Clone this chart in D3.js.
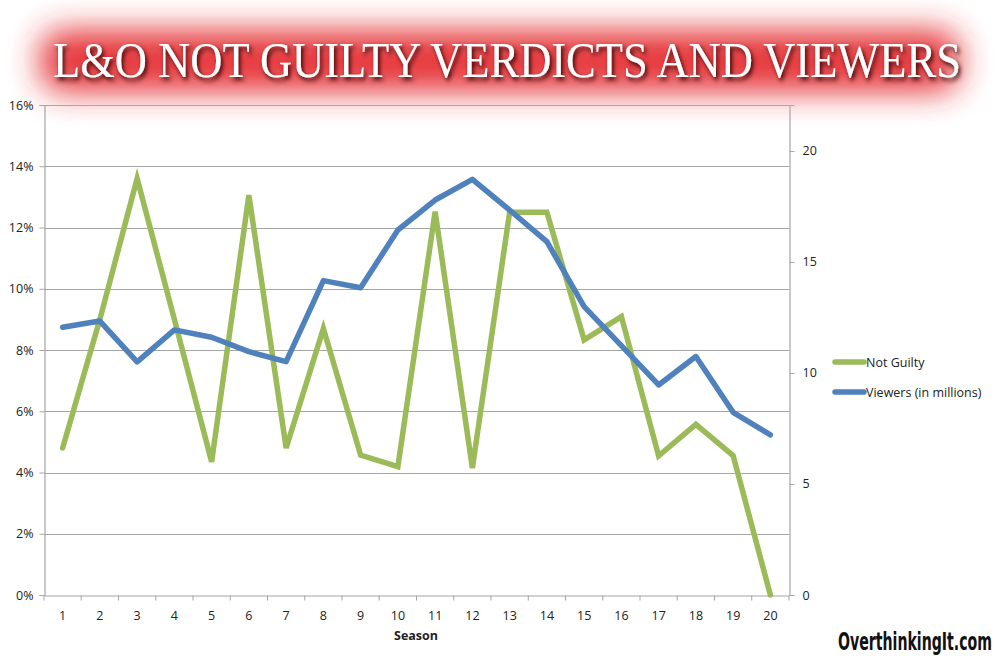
<!DOCTYPE html>
<html><head><meta charset="utf-8">
<script src="https://cdn.jsdelivr.net/npm/d3@7"></script>
<style>body{margin:0;background:#fff}svg{display:block}</style>
</head><body>
<svg id="c" width="1000" height="662"></svg>
<script>
const seasons = [1,2,3,4,5,6,7,8,9,10,11,12,13,14,15,16,17,18,19,20];
const notGuilty = [4.8,9.0,13.6,9.0,4.35,13.06,4.8,8.7,4.57,4.19,12.52,4.14,12.5,12.5,8.33,9.09,4.54,5.57,4.55,0];
const viewers = [12.06,12.34,10.5,11.94,11.61,10.96,10.51,14.16,13.84,16.44,17.79,18.72,17.34,15.92,12.99,11.23,9.46,10.74,8.23,7.21];
const leftTicks = [0,2,4,6,8,10,12,14,16];
const rightTicks = [0,5,10,15,20];
const seriesNames = ["Not Guilty","Viewers (in millions)"];
const colors = ["#9bbb59","#4f81bd"];
const title = "L&O NOT GUILTY VERDICTS AND VIEWERS";

const svg = d3.select("#c");
const L = 44, R = 789, T = 105, B = 595;

const defs = svg.append("defs");
defs.append("filter").attr("id","glow").attr("filterUnits","userSpaceOnUse")
  .attr("x",-50).attr("y",-60).attr("width",1100).attr("height",240)
  .append("feGaussianBlur").attr("stdDeviation",16);
const ts = defs.append("filter").attr("id","tshadow").attr("filterUnits","userSpaceOnUse")
  .attr("x",-600).attr("y",-100).attr("width",1200).attr("height",160);
ts.append("feDropShadow").attr("dx",2).attr("dy",2.5).attr("stdDeviation",2.2).attr("flood-color","#2a0000").attr("flood-opacity",0.95);

// title glow
svg.append("rect").attr("x",40).attr("y",30).attr("width",920).attr("height",62).attr("rx",24)
  .attr("fill","#e4262c").attr("opacity",0.92).attr("filter","url(#glow)");
svg.append("g").attr("transform","translate(507,77) scale(1,1.25)")
  .append("text").attr("x",0).attr("y",0).attr("text-anchor","middle")
  .attr("font-family","Liberation Serif, serif").attr("font-size",40)
  .attr("textLength",908).attr("lengthAdjust","spacingAndGlyphs")
  .attr("fill","#fff").attr("filter","url(#tshadow)").text(title);

const x = d3.scaleBand().domain(seasons).range([L,R]);
const yL = d3.scaleLinear().domain([0,16]).range([B,T]);
const yR = d3.scaleLinear().domain([0,22.07]).range([B,T]);

svg.append("g").selectAll("line").data(leftTicks.filter(d=>d>0)).join("line")
  .attr("x1",L).attr("x2",R).attr("y1",d=>Math.round(yL(d))+0.5).attr("y2",d=>Math.round(yL(d))+0.5)
  .attr("stroke","#a6a6a6").attr("stroke-width",1.2);

const font = "Open Sans, Liberation Sans, sans-serif";
const gl = svg.append("g").attr("transform",`translate(${L+0.5},0)`)
  .call(d3.axisLeft(yL).tickValues(leftTicks).tickFormat(d=>d+"%").tickSize(5).tickPadding(6));
const gr = svg.append("g").attr("transform",`translate(${R+0.5},0)`)
  .call(d3.axisRight(yR).tickValues(rightTicks).tickSize(5).tickPadding(8));
const gb = svg.append("g").attr("transform",`translate(0,${B+0.5})`)
  .call(d3.axisBottom(x).tickSize(0).tickPadding(16));
gb.append("g").selectAll("line").data(d3.range(0,21)).join("line")
  .attr("x1",i=>L+i*x.step()).attr("x2",i=>L+i*x.step()).attr("y1",0).attr("y2",5).attr("stroke","#a6a6a6");
[gl,gr,gb].forEach(g=>{
  g.selectAll(".domain").attr("stroke","#a6a6a6").attr("stroke-width",1.2);
  g.selectAll(".tick line").attr("stroke","#a6a6a6");
  g.selectAll("text").attr("font-family",font).attr("font-size",12.5).attr("fill","#222");
});
svg.append("text").attr("x",416).attr("y",640).attr("text-anchor","middle")
  .attr("font-family",font).attr("font-weight","bold").attr("font-size",12.5).attr("fill","#222").text("Season");

const cx = d=>x(d)+x.bandwidth()/2;
svg.append("path").datum(notGuilty).attr("fill","none").attr("stroke",colors[0]).attr("stroke-width",5.5)
  .attr("stroke-linejoin","miter").attr("stroke-linecap","round")
  .attr("d",d3.line().x((d,i)=>cx(seasons[i])).y(d=>yL(d)));
svg.append("path").datum(viewers).attr("fill","none").attr("stroke",colors[1]).attr("stroke-width",5.5)
  .attr("stroke-linejoin","round").attr("stroke-linecap","round")
  .attr("d",d3.line().x((d,i)=>cx(seasons[i])).y(d=>yR(d)));

const lg = svg.append("g");
seriesNames.forEach((n,i)=>{
  const y = 362 + i*30;
  lg.append("line").attr("x1",835).attr("x2",864).attr("y1",y).attr("y2",y)
    .attr("stroke",colors[i]).attr("stroke-width",5.5).attr("stroke-linecap","round");
  lg.append("text").attr("x",866).attr("y",y+4.5).attr("font-family",font).attr("font-size",12.5)
    .attr("fill","#222").text(n);
});

svg.append("g").attr("transform","translate(838,650) scale(1,1.55)")
  .append("text").attr("x",0).attr("y",0)
  .attr("font-family","DejaVu Sans Condensed, DejaVu Sans, sans-serif").attr("font-weight","bold")
  .attr("font-size",16).attr("textLength",154).attr("lengthAdjust","spacingAndGlyphs")
  .attr("fill","#111").text("OverthinkingIt.com");
</script>
</body></html>
